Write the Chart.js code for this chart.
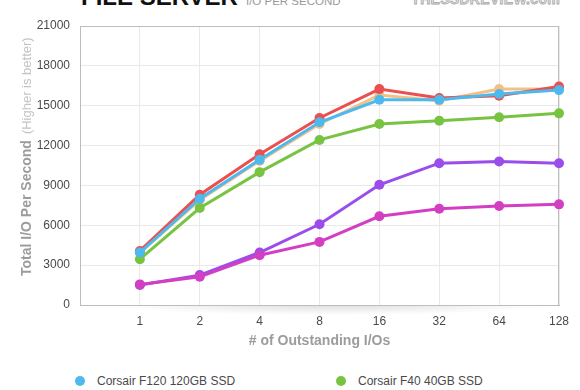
<!DOCTYPE html>
<html>
<head>
<meta charset="utf-8">
<script src="https://cdn.jsdelivr.net/npm/chart.js@4.4.1/dist/chart.umd.min.js"></script>
<style>
  html, body { margin: 0; padding: 0; background: #fff; overflow: hidden; }
  body { width: 580px; height: 390px; position: relative; font-family: "Liberation Sans", Arial, sans-serif; }
  #title { position: absolute; left: 81px; top: -15px; font-size: 24px; line-height: 24px; font-weight: bold; color: #111; white-space: nowrap; }
  #title span { font-size: 11.5px; font-weight: normal; color: #9a9a9a; margin-left: 8px; }
  #logo { position: absolute; right: 20px; top: -8px; font-size: 14px; line-height: 14px; font-weight: bold; color: #e6e6e6; -webkit-text-stroke: 0.8px #a8a8a8; letter-spacing: 0.3px; }
  #chart { position: absolute; left: 0; top: 0; }
  #legend { position: absolute; left: 75px; top: 374px; width: 520px; display: grid; grid-template-columns: 261px 261px; row-gap: 10px; }
  .item { display: flex; align-items: center; font-size: 12px; color: #4a4a4a; height: 14px; }
  .dot { width: 10px; height: 10px; border-radius: 50%; margin-right: 12px; flex: none; }
</style>
</head>
<body>
<div id="title">FILE SERVER<span>I/O PER SECOND</span></div>
<div id="logo">THESSDREVIEW.com</div>
<canvas id="chart" width="580" height="360"></canvas>
<div id="legend"></div>
<script>
// # of outstanding I/Os
const categories = ['1', '2', '4', '8', '16', '32', '64', '128'];
const yTicks = [0, 3000, 6000, 9000, 12000, 15000, 18000, 21000];

// total I/O per second
const corsairF120 = [3950, 8000, 10925, 13750, 15450, 15450, 15875, 16175];
const corsairF40 = [3450, 7300, 10000, 12425, 13625, 13875, 14125, 14425];
const redDrive = [4070, 8300, 11350, 14075, 16250, 15575, 15750, 16450];
const orangeDrive = [3950, 7900, 10850, 13625, 15800, 15375, 16250, 16250];
const magentaDrive = [1550, 2125, 3750, 4750, 6675, 7250, 7450, 7575];
const purpleDrive = [1500, 2250, 3950, 6075, 9050, 10675, 10800, 10675];

const series = [
    { label: 'Corsair F120 120GB SSD', data: corsairF120, color: '#4db9ec' },
    { label: 'Corsair F40 40GB SSD', data: corsairF40, color: '#78c442' },
    { label: 'OCZ Vertex 2 100GB SSD', data: redDrive, color: '#eb4f4f' },
    { label: 'Corsair F100 100GB SSD', data: orangeDrive, color: '#f3c187' },
    { label: 'Kingston V+ 128GB SSD', data: magentaDrive, color: '#d23fc2' },
    { label: 'Intel X25-M 80GB SSD', data: purpleDrive, color: '#9b4deb' }
];

const FONT = '"Liberation Sans", Arial, sans-serif';
Chart.defaults.font.family = FONT;

// the first slot on the x axis is empty
const xLabels = [''].concat(categories);

const plotFrame = {
    id: 'plotFrame',
    beforeDraw(chart) {
        const { ctx, chartArea: a } = chart;
        ctx.save();
        // soft shadow under the plot
        const cx = (a.left + a.right) / 2 + 10;
        ctx.translate(cx, a.bottom);
        ctx.scale(1, 0.045);
        const g = ctx.createRadialGradient(0, 0, 0, 0, 0, 220);
        g.addColorStop(0, 'rgba(0,0,0,0.13)');
        g.addColorStop(1, 'rgba(0,0,0,0)');
        ctx.fillStyle = g;
        ctx.beginPath();
        ctx.arc(0, 0, 220, 0, Math.PI * 2);
        ctx.fill();
        ctx.restore();
        ctx.save();
        ctx.fillStyle = '#fff';
        ctx.fillRect(a.left, a.top, a.right - a.left, a.bottom - a.top);
        ctx.restore();
    },
    beforeDatasetsDraw(chart) {
        const { ctx, chartArea: a } = chart;
        ctx.save();
        ctx.strokeStyle = '#bdbdbd';
        ctx.lineWidth = 1;
        ctx.strokeRect(a.left + 0.5, a.top + 0.5, a.right - a.left - 1, a.bottom - a.top);
        ctx.restore();
    },
    afterDraw(chart) {
        const ctx = chart.ctx;
        ctx.save();
        ctx.translate(27, 276);
        ctx.rotate(-Math.PI / 2);
        ctx.textBaseline = 'middle';
        ctx.textAlign = 'left';
        ctx.font = 'bold 14px ' + FONT;
        ctx.fillStyle = '#9c9c9c';
        const main = 'Total I/O Per Second';
        ctx.fillText(main, 0, 0);
        const w = ctx.measureText(main).width;
        ctx.font = '13px ' + FONT;
        ctx.fillStyle = '#c4c4c4';
        ctx.fillText('(Higher is better)', w + 6, 0);
        ctx.restore();
    }
};

new Chart(document.getElementById('chart'), {
    type: 'line',
    data: {
        labels: xLabels,
        datasets: series.map(s => ({
            label: s.label,
            data: [null].concat(s.data),
            borderColor: s.color,
            backgroundColor: s.color,
            pointBackgroundColor: s.color,
            pointBorderColor: s.color,
            pointRadius: 5,
            pointBorderWidth: 0,
            borderWidth: 3,
            tension: 0,
            fill: false
        }))
    },
    options: {
        responsive: false,
        animation: false,
        devicePixelRatio: 1,
        layout: { padding: { left: 0, right: 21, top: 26, bottom: 0 } },
        plugins: {
            legend: { display: false },
            tooltip: { enabled: false }
        },
        scales: {
            x: {
                type: 'category',
                offset: false,
                grid: { color: '#e9e9e9', drawTicks: false },
                border: { color: '#bdbdbd' },
                ticks: { color: '#4a4a4a', font: { size: 12 }, padding: 9, autoSkip: false, maxRotation: 0 },
                title: {
                    display: true,
                    text: '# of Outstanding I/Os',
                    color: '#9c9c9c',
                    font: { size: 14, weight: 'bold' },
                    padding: { top: 0, bottom: 10 }
                },
                afterFit: scale => { scale.height = 55; }
            },
            y: {
                min: 0,
                max: 21000,
                afterBuildTicks: scale => { scale.ticks = yTicks.map(v => ({ value: v })); },
                grid: { color: '#e9e9e9', drawTicks: false },
                border: { color: '#bdbdbd' },
                ticks: { color: '#4a4a4a', font: { size: 12 }, padding: 10, callback: v => String(v) },
                afterFit: scale => { scale.width = 80; }
            }
        }
    },
    plugins: [plotFrame]
});

const legend = document.getElementById('legend');
series.forEach(s => {
    const item = document.createElement('div');
    item.className = 'item';
    item.innerHTML = '<span class="dot" style="background:' + s.color + '"></span>' + s.label;
    legend.appendChild(item);
});
</script>
</body>
</html>
